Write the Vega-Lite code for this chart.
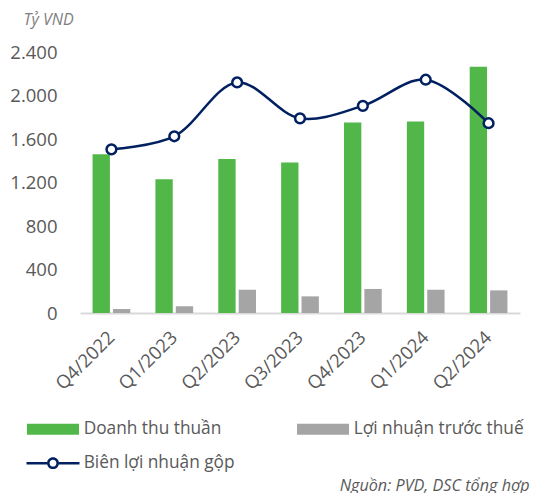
{
  "$schema": "https://vega.github.io/schema/vega-lite/v6.json",
  "width": 440,
  "height": 261,
  "autosize": {"type": "none"},
  "padding": {"left": 80, "top": 52, "right": 16, "bottom": 180},
  "background": "white",
  "config": {"view": {"stroke": null}, "font": "Open Sans"},
  "data": {
    "values": [
      {"q": "Q4/2022", "series": "Doanh thu thuần", "value": 1460},
      {"q": "Q4/2022", "series": "Lợi nhuận trước thuế", "value": 37},
      {"q": "Q4/2022", "series": "Biên lợi nhuận gộp", "value": 15.05},
      {"q": "Q1/2023", "series": "Doanh thu thuần", "value": 1230},
      {"q": "Q1/2023", "series": "Lợi nhuận trước thuế", "value": 62},
      {"q": "Q1/2023", "series": "Biên lợi nhuận gộp", "value": 16.25},
      {"q": "Q2/2023", "series": "Doanh thu thuần", "value": 1415},
      {"q": "Q2/2023", "series": "Lợi nhuận trước thuế", "value": 214},
      {"q": "Q2/2023", "series": "Biên lợi nhuận gộp", "value": 21.2},
      {"q": "Q3/2023", "series": "Doanh thu thuần", "value": 1385},
      {"q": "Q3/2023", "series": "Lợi nhuận trước thuế", "value": 153},
      {"q": "Q3/2023", "series": "Biên lợi nhuận gộp", "value": 17.9},
      {"q": "Q4/2023", "series": "Doanh thu thuần", "value": 1752},
      {"q": "Q4/2023", "series": "Lợi nhuận trước thuế", "value": 221},
      {"q": "Q4/2023", "series": "Biên lợi nhuận gộp", "value": 19.05},
      {"q": "Q1/2024", "series": "Doanh thu thuần", "value": 1762},
      {"q": "Q1/2024", "series": "Lợi nhuận trước thuế", "value": 214},
      {"q": "Q1/2024", "series": "Biên lợi nhuận gộp", "value": 21.45},
      {"q": "Q2/2024", "series": "Doanh thu thuần", "value": 2265},
      {"q": "Q2/2024", "series": "Lợi nhuận trước thuế", "value": 208},
      {"q": "Q2/2024", "series": "Biên lợi nhuận gộp", "value": 17.45}
    ]
  },
  "layer": [
    {
      "transform": [{"filter": "datum.series !== 'Biên lợi nhuận gộp'"}],
      "mark": {"type": "bar"},
      "encoding": {
        "x": {
          "field": "q", "type": "nominal", "sort": null,
          "scale": {"paddingInner": 0.4, "paddingOuter": 0.2},
          "axis": {
            "title": "Nguồn: PVD, DSC tổng hợp",
            "titleFontStyle": "italic", "titleFontWeight": "normal", "titleFontSize": 16.2,
            "titleColor": "#595959", "titleAlign": "right", "titleAnchor": null,
            "titleX": 449, "titleY": 177, "titleBaseline": "alphabetic",
            "labelAngle": -45, "labelAlign": "right", "labelBaseline": "middle",
            "labelFontSize": 18.5, "labelColor": "#595959",
            "labelPadding": 21, "ticks": false, "tickSize": 0,
            "domainColor": "#d9d9d9", "domainWidth": 2, "grid": false
          }
        },
        "xOffset": {
          "field": "series", "type": "nominal",
          "sort": ["Doanh thu thuần", "Lợi nhuận trước thuế"],
          "scale": {"paddingInner": 0.15, "paddingOuter": 0}
        },
        "y": {
          "field": "value", "type": "quantitative",
          "scale": {"domain": [0, 2400], "nice": false},
          "axis": {
            "title": "Tỷ VND", "titleAngle": 0, "titleAlign": "left", "titleBaseline": "middle",
            "titleX": -57, "titleY": -33, "titleFontStyle": "italic", "titleFontWeight": "normal",
            "titleFontSize": 16, "titleColor": "#808080",
            "labelFontSize": 18.5, "labelColor": "#595959", "labelPadding": 23,
            "ticks": false, "tickSize": 0, "domain": false, "grid": false,
            "values": [0, 400, 800, 1200, 1600, 2000, 2400],
            "labelExpr": "replace(format(datum.value, ','), ',', '.')"
          }
        },
        "color": {
          "field": "series", "type": "nominal",
          "scale": {
            "domain": ["Doanh thu thuần", "Lợi nhuận trước thuế", "Biên lợi nhuận gộp"],
            "range": ["#51b749", "#a5a5a5", "#002060"]
          },
          "legend": {
            "title": null, "orient": "none", "legendX": -53, "legendY": 368.5,
            "direction": "horizontal",
            "columns": 2, "columnPadding": 62, "rowPadding": 16, "padding": 0,
            "symbolSize": 121, "symbolStrokeWidth": 0, "symbolOffset": 17.35,
            "symbolStrokeColor": "transparent",
            "labelOffset": 22, "labelFontSize": 17.3, "labelColor": "#595959", "labelLimit": 300,
            "labelBaseline": "middle",
            "encode": {
              "symbols": {
                "update": {
                  "shape": {"signal": "datum.value === 'Biên lợi nhuận gộp' ? 'M-4.818,-0.227H-1.077V0.227H-4.818Z M1.077,-0.227H4.818V0.227H1.077Z M1.077,0A1.077,1.077 0 1,1 -1.077,0A1.077,1.077 0 1,1 1.077,0Z M0.623,0A0.623,0.623 0 1,0 -0.623,0A0.623,0.623 0 1,0 0.623,0Z' : 'M-4.727,-1H4.727V1H-4.727Z'"},
                  "fill": {"scale": "color", "field": "value"},
                  "strokeWidth": {"value": 0},
                  "opacity": {"value": 1},
                  "fillOpacity": {"value": 1}
                }
              }
            }
          }
        }
      }
    },
    {
      "transform": [{"filter": "datum.series === 'Biên lợi nhuận gộp'"}],
      "mark": {"type": "line", "interpolate": "catmull-rom", "strokeWidth": 2.5},
      "encoding": {
        "x": {"field": "q", "type": "nominal", "sort": null},
        "y": {"field": "value", "type": "quantitative", "scale": {"domain": [0, 24], "nice": false}, "axis": null},
        "color": {"field": "series", "type": "nominal"}
      }
    },
    {
      "transform": [{"filter": "datum.series === 'Biên lợi nhuận gộp'"}],
      "mark": {"type": "point", "filled": true, "fill": "white", "stroke": "#002060", "strokeWidth": 2.5, "size": 95, "opacity": 1},
      "encoding": {
        "x": {"field": "q", "type": "nominal", "sort": null},
        "y": {"field": "value", "type": "quantitative", "scale": {"domain": [0, 24], "nice": false}, "axis": null}
      }
    }
  ],
  "resolve": {"scale": {"y": "independent"}}
}
